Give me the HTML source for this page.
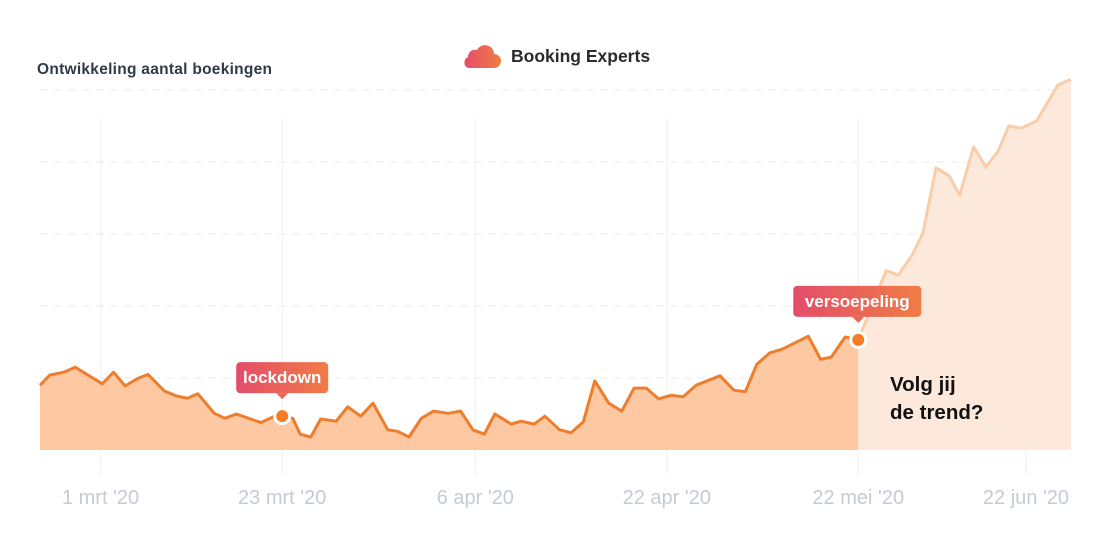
<!DOCTYPE html>
<html><head><meta charset="utf-8"><style>
body{margin:0;background:#fff;font-family:"Liberation Sans",sans-serif}
#wrap{position:relative;width:1112px;height:544px;overflow:hidden}
</style></head><body>
<div id="wrap">
<svg id="chart" width="1112" height="544">
<defs>
<linearGradient id="lg" x1="0" x2="1"><stop offset="0" stop-color="#e44d6b"/><stop offset="1" stop-color="#f07c45"/></linearGradient>
</defs>
<text x="37" y="74" font-size="15.5" font-weight="bold" fill="#2f3a4a" textLength="235">Ontwikkeling aantal boekingen</text>
<g>
<path d="M468 68 h26 a6 6 0 0 0 0-14 a9 9 0 0 0-17-4 a7 7 0 0 0-9 7 a6 6 0 0 0 0 11z" fill="url(#lg)"/>
<text x="511" y="62" font-size="17.5" font-weight="bold" fill="#2b2b2b">Booking Experts</text>
</g>
<g id="grid"></g><g id="areas"></g><g id="marks"></g><g id="xaxis"></g>
<text x="890" y="391" font-size="20.5" font-weight="bold" fill="#111"><tspan x="890">Volg jij</tspan><tspan x="890" dy="28">de trend?</tspan></text>
</svg>
</div>
<script>
const days=[0,1.2,2.9,4.3,7.6,9.0,10.4,11.9,13.2,15.2,16.7,18.0,19.3,21.3,22.6,24.0,27.0,28.5,29.6,30.9,31.8,33.1,34.3,36.2,37.6,39.2,40.7,42.5,43.7,45.1,46.6,48.1,49.9,51.4,52.9,54.3,55.6,57.6,58.8,60.4,61.7,63.5,64.9,66.4,67.8,69.5,71.1,72.6,74.1,75.6,77.1,78.6,80.2,83.1,84.8,86.2,87.6,89.2,90.7,93.9,95.4,96.7,98.4,100];
const bookings=[90,104,108,115,92,108,89,99,105,82,75,72,78,51,44,50,38,46,47,44,22,18,43,40,60,47,65,28,26,18,44,54,51,54,28,22,50,36,40,36,47,28,24,39,96,65,54,86,86,71,76,74,90,103,83,81,119,135,140,158,126,129,157,153];
const trendDays=[100,103.4,104.9,106.6,107.9,109.5,111.1,112.4,114.1,115.6,117.1,118.4,119.9,121.8,124.4,126];
const trendValues=[153,249,243,271,301,392,381,354,421,393,415,450,447,457,507,515];
const tickLabels=["1 mrt '20","23 mrt '20","6 apr '20","22 apr '20","22 mei '20","22 jun '20"];
const tickDays=[7.4,29.6,53.2,76.6,100,120.5];
const gridValues=[100,200,300,400,500];
const events=[{label:"lockdown",day:29.6,value:47},{label:"versoepeling",day:100,value:153}];
const X=d=>40+d*(1031/126), Y=v=>450-v*0.72;
const NS="http://www.w3.org/2000/svg";
function mk(t,a,p){const e=document.createElementNS(NS,t);for(const k in a)e.setAttribute(k,a[k]);p.appendChild(e);return e;}
const grid=document.getElementById('grid'),areas=document.getElementById('areas'),marks=document.getElementById('marks'),xa=document.getElementById('xaxis');
gridValues.forEach(v=>{const l=mk('line',{x1:40,x2:1071,y1:Y(v),y2:Y(v),stroke:'#eef0f3','stroke-width':1.5,'stroke-dasharray':'8 6'},grid);

});
tickDays.forEach((d,i)=>{const l=mk('line',{x1:X(d),x2:X(d),y1:118,y2:475,stroke:'#f3f4f6','stroke-width':1.5},grid);


const t=mk('text',{x:X(d),y:504,'text-anchor':'middle','font-size':20,fill:'#c6cbd3'},xa);t.textContent=tickLabels[i];

});
function pts(ds,vs){return ds.map((d,i)=>X(d).toFixed(1)+','+Y(vs[i]).toFixed(1)).join(' ');}
const ta=mk('polygon',{points:X(trendDays[0])+','+Y(0)+' '+pts(trendDays,trendValues)+' '+X(trendDays[trendDays.length-1])+','+Y(0),fill:'#fde9dc'},areas);


const tl=mk('polyline',{points:pts(trendDays,trendValues),fill:'none',stroke:'#f9ccaa','stroke-width':3,'stroke-linejoin':'round'},areas);


const ba=mk('polygon',{points:X(days[0])+','+Y(0)+' '+pts(days,bookings)+' '+X(days[days.length-1])+','+Y(0),fill:'#fdc8a2'},areas);


const bl=mk('polyline',{points:pts(days,bookings),fill:'none',stroke:'#ee7d2c','stroke-width':3,'stroke-linejoin':'round'},areas);


events.forEach((ev,i)=>{const cx=X(ev.day),cy=Y(ev.value);
const g=mk('g',{},marks);


mk('circle',{cx:cx,cy:cy,r:7.5,fill:'#f47c25',stroke:'#fff','stroke-width':3},g);
const w=ev.label.length*9+20,by=cy-54,bx=i===0?cx-46:cx-65;
mk('rect',{x:bx,y:by,width:w,height:31,rx:4,fill:'url(#lg)'},g);
mk('path',{d:`M${cx-6} ${by+31} L${cx} ${by+37} L${cx+6} ${by+31}z`,fill:'#ea6456'},g);
const t=mk('text',{x:bx+w/2,y:by+21,'text-anchor':'middle','font-size':17,'font-weight':'bold',fill:'#fff'},g);t.textContent=ev.label;});
</script>
</body></html>
